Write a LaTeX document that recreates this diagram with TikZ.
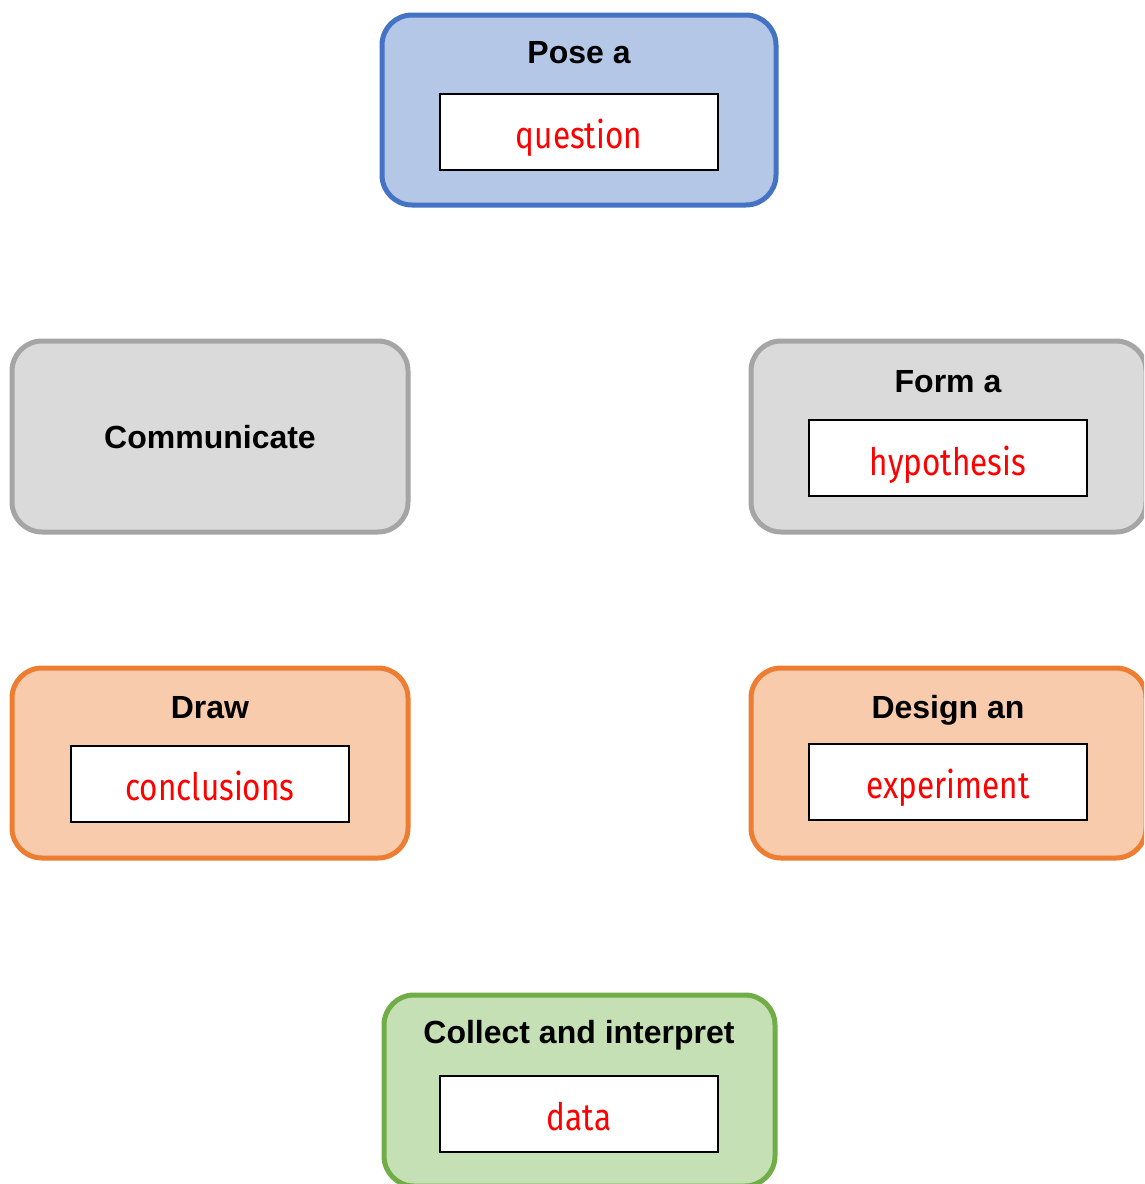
\documentclass[tikz,border=0pt]{standalone}
\usepackage{fontspec}
\usepackage{graphicx}
\setmainfont{Liberation Sans}
\newfontfamily\handfont{Fira Sans}
\definecolor{bluefill}{HTML}{B4C7E7}
\definecolor{blueline}{HTML}{4472C4}
\definecolor{grayfill}{HTML}{DADADA}
\definecolor{grayline}{HTML}{A5A5A5}
\definecolor{orangefill}{HTML}{F8CBAD}
\definecolor{orangeline}{HTML}{ED7D31}
\definecolor{greenfill}{HTML}{C5E0B4}
\definecolor{greenline}{HTML}{70AD47}
\definecolor{redtext}{HTML}{FF0000}
\newcommand{\handtxt}[1]{\scalebox{1}[1.2]{#1}}
\begin{document}
\begin{tikzpicture}[x=1pt,y=-1pt,
  stepbox/.style={draw, line width=5pt, rounded corners=30pt, inner sep=0pt},
  innerbox/.style={draw=black, fill=white, line width=2pt, minimum width=278pt, minimum height=76pt, inner sep=0pt},
  title/.style={anchor=base, font=\fontsize{32}{38}\selectfont\bfseries, inner sep=0pt},
  hand/.style={anchor=base, font=\handfont\fontsize{31.5}{38}\selectfont, text=redtext, inner sep=0pt}]
\clip (0,0) rectangle (1144,1184);
\fill[white] (0,0) rectangle (1144,1184);
% Pose a question
\node[stepbox, draw=blueline, fill=bluefill, minimum width=394pt, minimum height=190pt] (pose) at (579,110) {};
\node[innerbox] (poseIn) at (579,131.5) {};
\node[title] (poseT) at (579,63) {Pose a};
\node[hand] (poseH) at (579,148) {\handtxt{question}};
% Communicate
\node[stepbox, draw=grayline, fill=grayfill, minimum width=396pt, minimum height=191pt] (comm) at (210,436.5) {};
\node[title] (commT) at (210,448) {Communicate};
% Form a hypothesis
\node[stepbox, draw=grayline, fill=grayfill, minimum width=395pt, minimum height=191pt] (form) at (948.5,436.5) {};
\node[innerbox] (formIn) at (948,458) {};
\node[title] (formT) at (948,392) {Form a};
\node[hand] (formH) at (948,475) {\handtxt{hypothesis}};
% Draw conclusions
\node[stepbox, draw=orangeline, fill=orangefill, minimum width=396pt, minimum height=190pt] (draw) at (210,763) {};
\node[innerbox] (drawIn) at (210,784) {};
\node[title] (drawT) at (210,718) {Draw};
\node[hand] (drawH) at (210,800) {\handtxt{conclusions}};
% Design an experiment
\node[stepbox, draw=orangeline, fill=orangefill, minimum width=395pt, minimum height=190pt] (design) at (948.5,763) {};
\node[innerbox] (designIn) at (948,782) {};
\node[title] (designT) at (948,718) {Design an};
\node[hand] (designH) at (948,798) {\handtxt{experiment}};
% Collect and interpret data
\node[stepbox, draw=greenline, fill=greenfill, minimum width=391pt, minimum height=191pt] (collect) at (579.5,1090.5) {};
\node[innerbox] (collectIn) at (579,1113.5) {};
\node[title] (collectT) at (579,1043) {Collect and interpret};
\node[hand] (collectH) at (579,1130) {\handtxt{data}};
\end{tikzpicture}
\end{document}
